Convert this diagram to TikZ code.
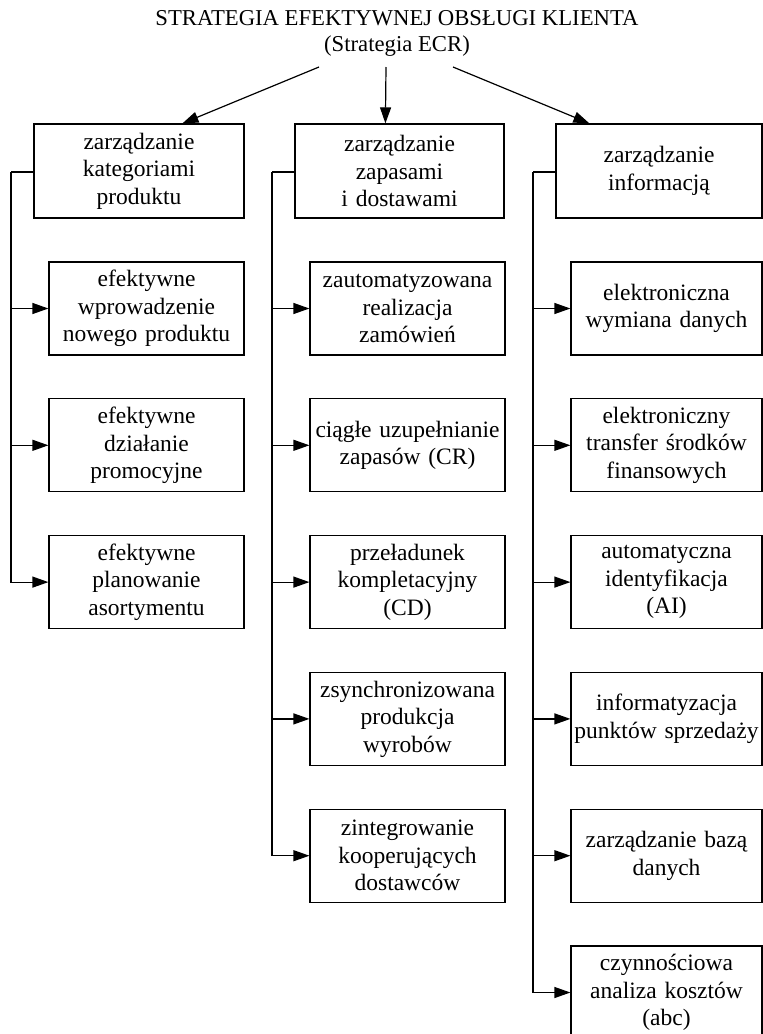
\documentclass[tikz,border=0pt]{standalone}
\usepackage{fontspec}
\setmainfont{Liberation Serif}
\usetikzlibrary{arrows.meta}
\newcommand\boxfont{\fontsize{23.5}{27.5}\selectfont}
\newcommand\titlefont{\fontsize{22.7}{26}\selectfont}
\begin{document}
\begin{tikzpicture}[x=1pt,y=-1pt,
  line width=1.2pt,
  head/.style={draw, inner sep=0pt, minimum height=94pt, align=center, font=\boxfont},
  item/.style={draw, inner sep=0pt, minimum height=93pt, text width=195pt, align=center, font=\boxfont},
  itemr/.style={item, text width=191pt},
  arr/.style={-{Triangle[length=16pt,width=11pt]}},
]
\useasboundingbox (0,0) rectangle (763,1034);

% title
\node[align=center, font=\titlefont] (title) at (397,33)
  {STRATEGIA EFEKTYWNEJ OBSŁUGI KLIENTA\\(Strategia ECR)};
\coordinate (s1) at (319,67);
\coordinate (s2) at (386,67);
\coordinate (s3) at (453,67);

% three main areas
\node[head, text width=210pt] (h1) at (139,171) {zarządzanie\\kategoriami\\produktu};
\node[head, text width=209pt] (h2) at (399.5,171) {zarządzanie\\zapasami\\i dostawami};
\node[head, text width=206pt] (h3) at (659,171) {zarządzanie\\informacją};

\path (h1.north west) ++(149,0) coordinate (e1);
\path (h2.north west) ++(91,0) coordinate (e2);
\path (h3.north west) ++(34,0) coordinate (e3);
\draw[arr] (s1) -- (e1);
\draw[arr] (s2) -- (e2);
\draw[arr] (s3) -- (e3);

% column 1
\node[item] (a1) at (146.5,308.5) {efektywne\\wprowadzenie\\nowego produktu};
\node[item] (a2) at (146.5,445.3) {efektywne\\działanie\\promocyjne};
\node[item] (a3) at (146.5,582.1) {efektywne\\planowanie\\asortymentu};

% column 2
\node[item] (b1) at (407.5,308.5) {zautomatyzowana\\realizacja\\zamówień};
\node[item] (b2) at (407.5,445.3) {ciągłe uzupełnianie\\zapasów (CR)};
\node[item] (b3) at (407.5,582.1) {przeładunek\\kompletacyjny\\(CD)};
\node[item] (b4) at (407.5,718.9) {zsynchronizowana\\produkcja\\wyrobów};
\node[item] (b5) at (407.5,855.7) {zintegrowanie\\kooperujących\\dostawców};

% column 3
\node[itemr] (c1) at (666.5,308.5) {elektroniczna\\wymiana danych};
\node[itemr] (c2) at (666.5,445.3) {elektroniczny\\transfer środków\\finansowych};
\node[itemr] (c3) at (666.5,582.1) {automatyczna\\identyfikacja\\(AI)};
\node[itemr] (c4) at (666.5,718.9) {informatyzacja\\punktów sprzedaży};
\node[itemr] (c5) at (666.5,855.7) {zarządzanie bazą\\danych};
\node[itemr] (c6) at (666.5,992.5) {czynnościowa\\analiza kosztów\\(abc)};

% bus lines
\coordinate (busA) at (11,172);
\coordinate (busB) at (272,172);
\coordinate (busC) at (533,172);

\draw (h1.west |- busA) -- (busA);
\draw[arr] (busA) |- (a3.west);
\draw[arr] (busA |- a1.west) -- (a1.west);
\draw[arr] (busA |- a2.west) -- (a2.west);

\draw (h2.west |- busB) -- (busB);
\draw[arr] (busB) |- (b5.west);
\foreach \n in {b1,b2,b3,b4} \draw[arr] (busB |- \n.west) -- (\n.west);

\draw (h3.west |- busC) -- (busC);
\draw[arr] (busC) |- (c6.west);
\foreach \n in {c1,c2,c3,c4,c5} \draw[arr] (busC |- \n.west) -- (\n.west);
\end{tikzpicture}
\end{document}
